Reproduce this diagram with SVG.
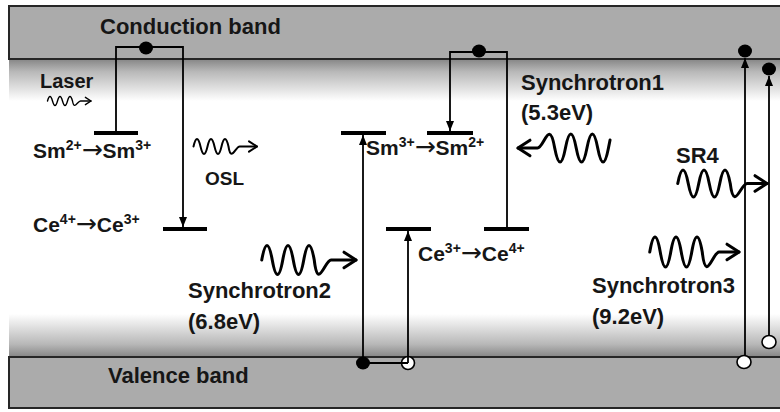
<svg xmlns="http://www.w3.org/2000/svg" width="780" height="412" viewBox="0 0 780 412">
<style>
.band{fill:#ababab;stroke:#262626;stroke-width:2}
.lbl{font-family:"Liberation Sans",Arial,"DejaVu Sans",sans-serif;font-weight:bold;fill:#161616;font-size:22px}
.sm{font-size:21px}
.sup{font-size:14px}
.arr{font-family:"DejaVu Sans",sans-serif;font-weight:normal;font-size:25px}
.lvl{stroke:#000;stroke-width:4}
.con{fill:none;stroke:#000;stroke-width:1.8}
.up{marker-end:url(#tri)}
.wave{fill:none;stroke:#000;stroke-linecap:round;stroke-linejoin:round;marker-end:url(#chev)}
.e{fill:#000}
.h{fill:#fff;stroke:#000;stroke-width:1.6}
</style>
<defs>
<linearGradient id="gTop" x1="0" y1="0" x2="0" y2="1">
<stop offset="0" stop-color="#858585"/>
<stop offset="0.3" stop-color="#b8b8b8"/>
<stop offset="1" stop-color="#ffffff"/>
</linearGradient>
<linearGradient id="gBot" x1="0" y1="0" x2="0" y2="1">
<stop offset="0" stop-color="#ffffff"/>
<stop offset="0.7" stop-color="#b8b8b8"/>
<stop offset="1" stop-color="#858585"/>
</linearGradient>
<marker id="tri" markerUnits="userSpaceOnUse" viewBox="0 0 10 8" refX="10" refY="4" markerWidth="10" markerHeight="8" orient="auto">
<path d="M0,0 L10,4 L0,8 z" fill="#000"/>
</marker>
<marker id="chev" markerUnits="strokeWidth" viewBox="0 0 6 6" refX="4.6" refY="3" markerWidth="6" markerHeight="6" orient="auto-start-reverse" overflow="visible">
<path d="M0.6,0.4 L4.6,3 L0.6,5.6" fill="none" stroke="#000" stroke-width="1" stroke-linecap="round" stroke-linejoin="round"/>
</marker>
</defs>

<rect x="0" y="0" width="780" height="412" fill="#fff"/>
<rect x="9" y="59" width="775" height="42" fill="url(#gTop)"/>
<rect x="9" y="314" width="775" height="43" fill="url(#gBot)"/>

<g id="conduction-band">
<rect class="band" x="9" y="6" width="790" height="53"/>
<text class="lbl" x="100" y="34">Conduction band</text>
</g>
<g id="valence-band">
<rect class="band" x="9" y="357" width="790" height="51"/>
<text class="lbl" x="108" y="383">Valence band</text>
</g>

<g id="hole-mid">
<circle class="h" cx="408" cy="363" r="6.5"/>
</g>

<g id="connectors">
<path class="con up" d="M116,131 V47 H183 V227"/>
<path class="con up" d="M507,227 V52 H450 V131"/>
<path class="con up" d="M363,363 V135"/>
<path class="con" d="M363,363 H408"/>
<path class="con up" d="M408,363 V231"/>
<path class="con up" d="M745,362 V58"/>
<path class="con up" d="M769,342 V76"/>
</g>

<g id="electron-1"><ellipse class="e" cx="146" cy="48" rx="7" ry="6.5"/></g>
<g id="electron-2"><ellipse class="e" cx="479" cy="51" rx="7" ry="6.5"/></g>
<g id="electron-3"><ellipse class="e" cx="745" cy="51" rx="7" ry="6.5"/></g>
<g id="electron-4"><ellipse class="e" cx="769" cy="69" rx="7" ry="6.5"/></g>
<g id="electron-5"><ellipse class="e" cx="363" cy="363" rx="7" ry="6.5"/></g>
<g id="hole-3"><ellipse class="h" cx="744" cy="362" rx="7" ry="6.5"/></g>
<g id="hole-4"><ellipse class="h" cx="769" cy="342" rx="7" ry="6.5"/></g>

<g id="level-sm23">
<line class="lvl" x1="94" y1="133" x2="138" y2="133"/>
<text class="lbl sm" x="33" y="158">Sm<tspan class="sup" dy="-8">2+</tspan><tspan class="arr" dy="8">→</tspan>Sm<tspan class="sup" dy="-8">3+</tspan></text>
</g>
<g id="level-ce43">
<line class="lvl" x1="163" y1="229" x2="207" y2="229"/>
<text class="lbl sm" x="33" y="232">Ce<tspan class="sup" dy="-8">4+</tspan><tspan class="arr" dy="8">→</tspan>Ce<tspan class="sup" dy="-8">3+</tspan></text>
</g>
<g id="level-sm32">
<line class="lvl" x1="341" y1="133" x2="386" y2="133"/>
<line class="lvl" x1="427" y1="133" x2="473" y2="133"/>
<text class="lbl sm" x="366" y="155">Sm<tspan class="sup" dy="-8">3+</tspan><tspan class="arr" dy="8">→</tspan>Sm<tspan class="sup" dy="-8">2+</tspan></text>
</g>
<g id="level-ce34">
<line class="lvl" x1="386" y1="229" x2="431" y2="229"/>
<line class="lvl" x1="484" y1="229" x2="529" y2="229"/>
<text class="lbl sm" x="418" y="261">Ce<tspan class="sup" dy="-8">3+</tspan><tspan class="arr" dy="8">→</tspan>Ce<tspan class="sup" dy="-8">4+</tspan></text>
</g>

<g id="laser">
<text class="lbl" x="40" y="88" style="font-size:20px">Laser</text>
<path class="wave" stroke-width="1.4" d="M47.5,101 q2.5,-9 5,0 t5,0 t5,0 t5,0 t5,0 c1.75,9.9 5,0 8,0 L91,101"/>
</g>
<g id="osl">
<path class="wave" stroke-width="2" d="M193.5,146.5 q3.5,-15 7,0 t7,0 t7,0 t7,0 t7,0 c2.45,16.5 7,0 11.2,0 L257,146.5"/>
<text class="lbl" x="205" y="185" style="font-size:19px">OSL</text>
</g>
<g id="synchrotron1">
<text class="lbl" x="521" y="90">Synchrotron1</text>
<text class="lbl" x="521" y="120">(5.3eV)</text>
<path class="wave" stroke-width="3" style="marker-end:none;marker-start:url(#chev)" d="M518,148 L537.5,148 c6.45,0 11.8,-30.8 17.2,0 q5.375,28 10.75,0 t10.75,0 t10.75,0 t10.75,0 t10.75,0 l1.6,-8"/>
</g>
<g id="sr4">
<text class="lbl" x="676" y="163">SR4</text>
<path class="wave" stroke-width="3" d="M677.75,183.5 q5.25,-27 10.5,0 t10.5,0 t10.5,0 t10.5,0 t10.5,0 c3.7,29.7 10.5,0 16.8,0 L767,183.5"/>
</g>
<g id="synchrotron2">
<path class="wave" stroke-width="3" d="M261.75,260 q5.25,-29 10.5,0 t10.5,0 t10.5,0 t10.5,0 t10.5,0 c3.7,31.9 10.5,0 16.8,0 L356,260"/>
<text class="lbl" x="188" y="298">Synchrotron2</text>
<text class="lbl" x="188" y="329">(6.8eV)</text>
</g>
<g id="synchrotron3">
<path class="wave" stroke-width="3" d="M649.75,252 q5.25,-30 10.5,0 t10.5,0 t10.5,0 t10.5,0 t10.5,0 c3.7,33 10.5,0 16.8,0 L739,252"/>
<text class="lbl" x="592" y="293">Synchrotron3</text>
<text class="lbl" x="592" y="324">(9.2eV)</text>
</g>
</svg>
